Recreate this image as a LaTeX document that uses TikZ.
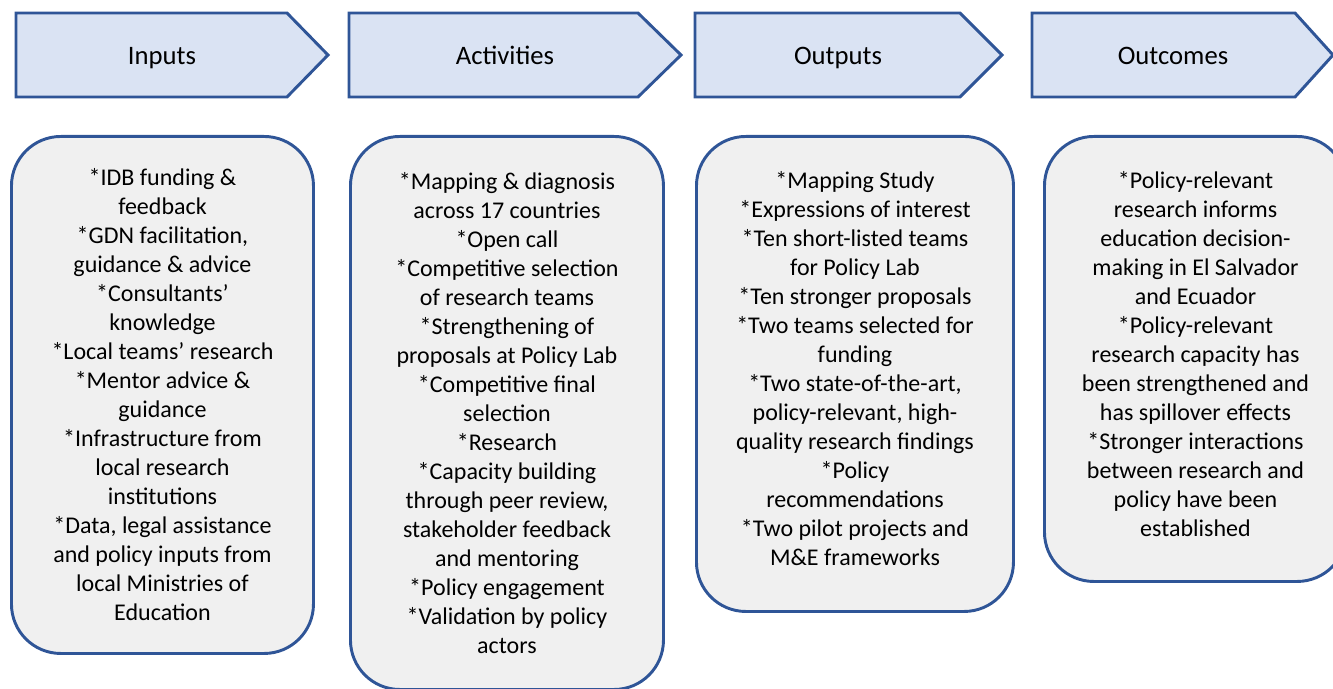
\documentclass[tikz,border=0pt]{standalone}
\usepackage{fontspec}
\setmainfont{Carlito}

\definecolor{stageblue}{HTML}{2F5597}
\definecolor{stagefill}{HTML}{DAE3F3}
\definecolor{boxfill}{HTML}{F0F0F0}

\tikzset{
  stage/.style={draw=stageblue, fill=stagefill, line width=2.2pt, line join=miter},
  stagelabel/.style={font=\fontsize{20}{24}\selectfont, text height=13pt, text depth=4pt},
  itembox/.style={draw=stageblue, fill=boxfill, line width=2.2pt, rounded corners=37pt,
    align=center, anchor=north west, inner sep=0pt,
    font=\fontsize{18}{21.75}\selectfont},
}

\begin{document}
\begin{tikzpicture}[x=0.75pt,y=-0.75pt]
    \useasboundingbox (0,0) rectangle (1333,688);
    \clip (0,0) rectangle (1333,688);
    % stage chevrons: left / end of flat part / tip / label x / name / label
    \foreach \l/\f/\t/\c/\n/\txt in {16/287/328/162/inputs/Inputs,
        349/638/681/505/activities/Activities,
        695/960/1002/838/outputs/Outputs,
        1032/1295/1333/1173/outcomes/Outcomes}{
        \draw[stage] (\l,13) -- (\f,13) -- (\t,55) -- (\f,97) -- (\l,97) -- cycle;
        \node[stagelabel] (\n) at (\c,59) {\txt};
    }
    % content boxes (sizes in pt: 0.75pt per pixel)
    \node[itembox, minimum width=226.5pt, minimum height=387.75pt] (inbox) at (10,135)
    {*IDB funding \&\\ feedback\\ *GDN facilitation,\\ guidance \& advice\\
     *Consultants’\\ knowledge\\ *Local teams’ research\\ *Mentor advice \&\\ guidance\\
     *Infrastructure from\\ local research\\ institutions\\ *Data, legal assistance\\
     and policy inputs from\\ local Ministries of\\ Education};
    \node[itembox, minimum width=234.75pt, minimum height=414.75pt] (actbox) at (349,135)
    {*Mapping \& diagnosis\\ across 17 countries\\ *Open call\\ *Competitive selection\\
     of research teams\\ *Strengthening of\\ proposals at Policy Lab\\ *Competitive final\\
     selection\\ *Research\\ *Capacity building\\ through peer review,\\ stakeholder feedback\\
     and mentoring\\ *Policy engagement\\ *Validation by policy\\ actors};
    \node[itembox, minimum width=237.75pt, minimum height=356.25pt] (outbox) at (695,135)
    {*Mapping Study\\ *Expressions of interest\\ *Ten short-listed teams\\ for Policy Lab\\
     *Ten stronger proposals\\ *Two teams selected for\\ funding\\ *Two state-of-the-art,\\
     policy-relevant, high-\\ quality research findings\\ *Policy\\ recommendations\\
     *Two pilot projects and\\ M\&E frameworks\\[-14pt]};
    \node[itembox, minimum width=226.5pt, minimum height=333.75pt] (effbox) at (1043,135)
    {*Policy-relevant\\ research informs\\ education decision-\\ making in El Salvador\\
     and Ecuador\\ *Policy-relevant\\ research capacity has\\ been strengthened and\\
     has spillover effects\\ *Stronger interactions\\ between research and\\
     policy have been\\ established\\[-14pt]};
\end{tikzpicture}
\end{document}
